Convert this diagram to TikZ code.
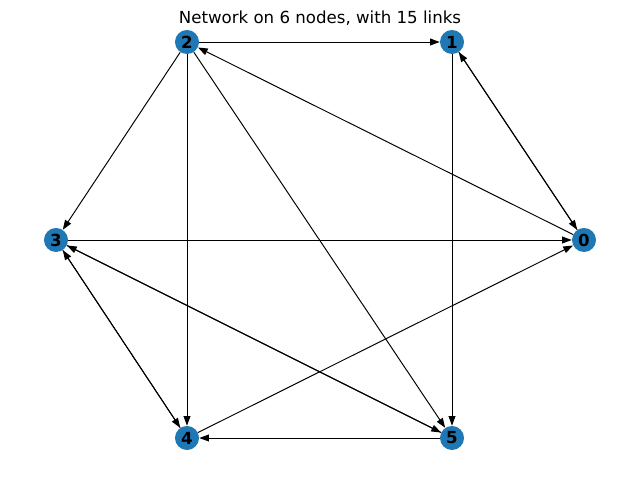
\documentclass[tikz,border=0pt]{standalone}
\usepackage{fontspec}
\setmainfont{DejaVu Sans}
\usetikzlibrary{arrows.meta}
\definecolor{nodeblue}{HTML}{1F77B4}
\tikzset{font={\fontsize{12pt}{14}\selectfont}}

\begin{document}
\begin{tikzpicture}[
x=0.01in,y=-0.01in,
vertex/.style={circle,fill=nodeblue,minimum size=0.24in,inner sep=0pt,font={\fontsize{12pt}{14}\selectfont\bfseries}},
link/.style={-{Stealth[length=7pt,width=5pt,inset=0pt]},line width=0.7pt}
]
\useasboundingbox (0,0) rectangle (640,480);
\node (title) at (320,18) {Network on 6 nodes, with 15 links};

\node[vertex] (n0) at (584,240) {0};
\node[vertex] (n1) at (452,42) {1};
\node[vertex] (n2) at (187,42) {2};
\node[vertex] (n3) at (56,240) {3};
\node[vertex] (n4) at (187,438) {4};
\node[vertex] (n5) at (452,438) {5};

% directed links
\foreach \a/\b in {2/1,1/0,0/1,0/2,1/5,3/0,4/0,2/3,2/4,2/5,3/4,4/3,3/5,5/3,5/4}
  \draw[link] (n\a) -- (n\b);

\end{tikzpicture}
\end{document}
